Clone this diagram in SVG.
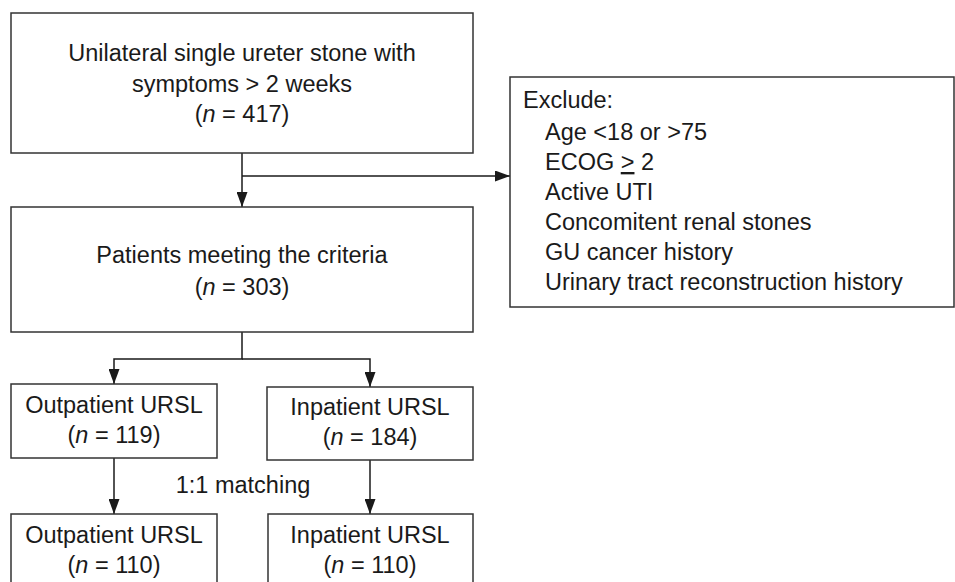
<svg xmlns="http://www.w3.org/2000/svg" width="955" height="582" viewBox="0 0 955 582">
<defs>
<marker id="ah" viewBox="0 0 15 11" refX="15" refY="5.5" markerWidth="15" markerHeight="11" markerUnits="userSpaceOnUse" orient="auto">
<path d="M0,0 L15,5.5 L0,11 z" fill="#1a1a1a"/>
</marker>
<style>
.box{fill:#fff;stroke:#333;stroke-width:1.5}
.ln{fill:none;stroke:#1a1a1a;stroke-width:1.5}
text{font-family:"Liberation Sans",Arial,sans-serif;font-size:23.5px;fill:#1a1a1a}
.c{text-anchor:middle}
</style>
</defs>
<rect width="955" height="582" fill="#fff"/>
<g id="connectors">
<path class="ln" d="M242,153 V207" marker-end="url(#ah)"/>
<path class="ln" d="M242,176 H510" marker-end="url(#ah)"/>
<path class="ln" d="M242,332 V359 H114 V384" marker-end="url(#ah)"/>
<path class="ln" d="M242,359 H370 V387" marker-end="url(#ah)"/>
<path class="ln" d="M114,458 V514" marker-end="url(#ah)"/>
<path class="ln" d="M370,460 V514" marker-end="url(#ah)"/>
<text class="c" x="243" y="493">1:1 matching</text>
</g>
<g id="n1">
<rect class="box" x="11" y="13" width="462" height="140"/>
<text class="c" x="242" y="61">Unilateral single ureter stone with</text>
<text class="c" x="242" y="92">symptoms &gt; 2 weeks</text>
<text class="c" x="242" y="122">(<tspan font-style="italic">n</tspan> = 417)</text>
</g>
<g id="n2">
<rect class="box" x="11" y="207" width="462" height="125"/>
<text class="c" x="242" y="263">Patients meeting the criteria</text>
<text class="c" x="242" y="295">(<tspan font-style="italic">n</tspan> = 303)</text>
</g>
<g id="exclude">
<rect class="box" x="510" y="77" width="444" height="230"/>
<text x="523" y="108">Exclude:</text>
<text x="545" y="140">Age &lt;18 or &gt;75</text>
<text x="545" y="170">ECOG <tspan text-decoration="underline">&gt;</tspan> 2</text>
<text x="545" y="200">Active UTI</text>
<text x="545" y="230">Concomitent renal stones</text>
<text x="545" y="260">GU cancer history</text>
<text x="545" y="290">Urinary tract reconstruction history</text>
</g>
<g id="n3">
<rect class="box" x="11" y="384" width="206" height="74"/>
<text class="c" x="114" y="413">Outpatient URSL</text>
<text class="c" x="114" y="443">(<tspan font-style="italic">n</tspan> = 119)</text>
</g>
<g id="n4">
<rect class="box" x="267" y="387" width="206" height="73"/>
<text class="c" x="370" y="415">Inpatient URSL</text>
<text class="c" x="370" y="445">(<tspan font-style="italic">n</tspan> = 184)</text>
</g>
<g id="n5">
<rect class="box" x="11" y="514" width="206" height="80"/>
<text class="c" x="114" y="543">Outpatient URSL</text>
<text class="c" x="114" y="573">(<tspan font-style="italic">n</tspan> = 110)</text>
</g>
<g id="n6">
<rect class="box" x="268" y="514" width="205" height="80"/>
<text class="c" x="370" y="543">Inpatient URSL</text>
<text class="c" x="370" y="573">(<tspan font-style="italic">n</tspan> = 110)</text>
</g>
</svg>
